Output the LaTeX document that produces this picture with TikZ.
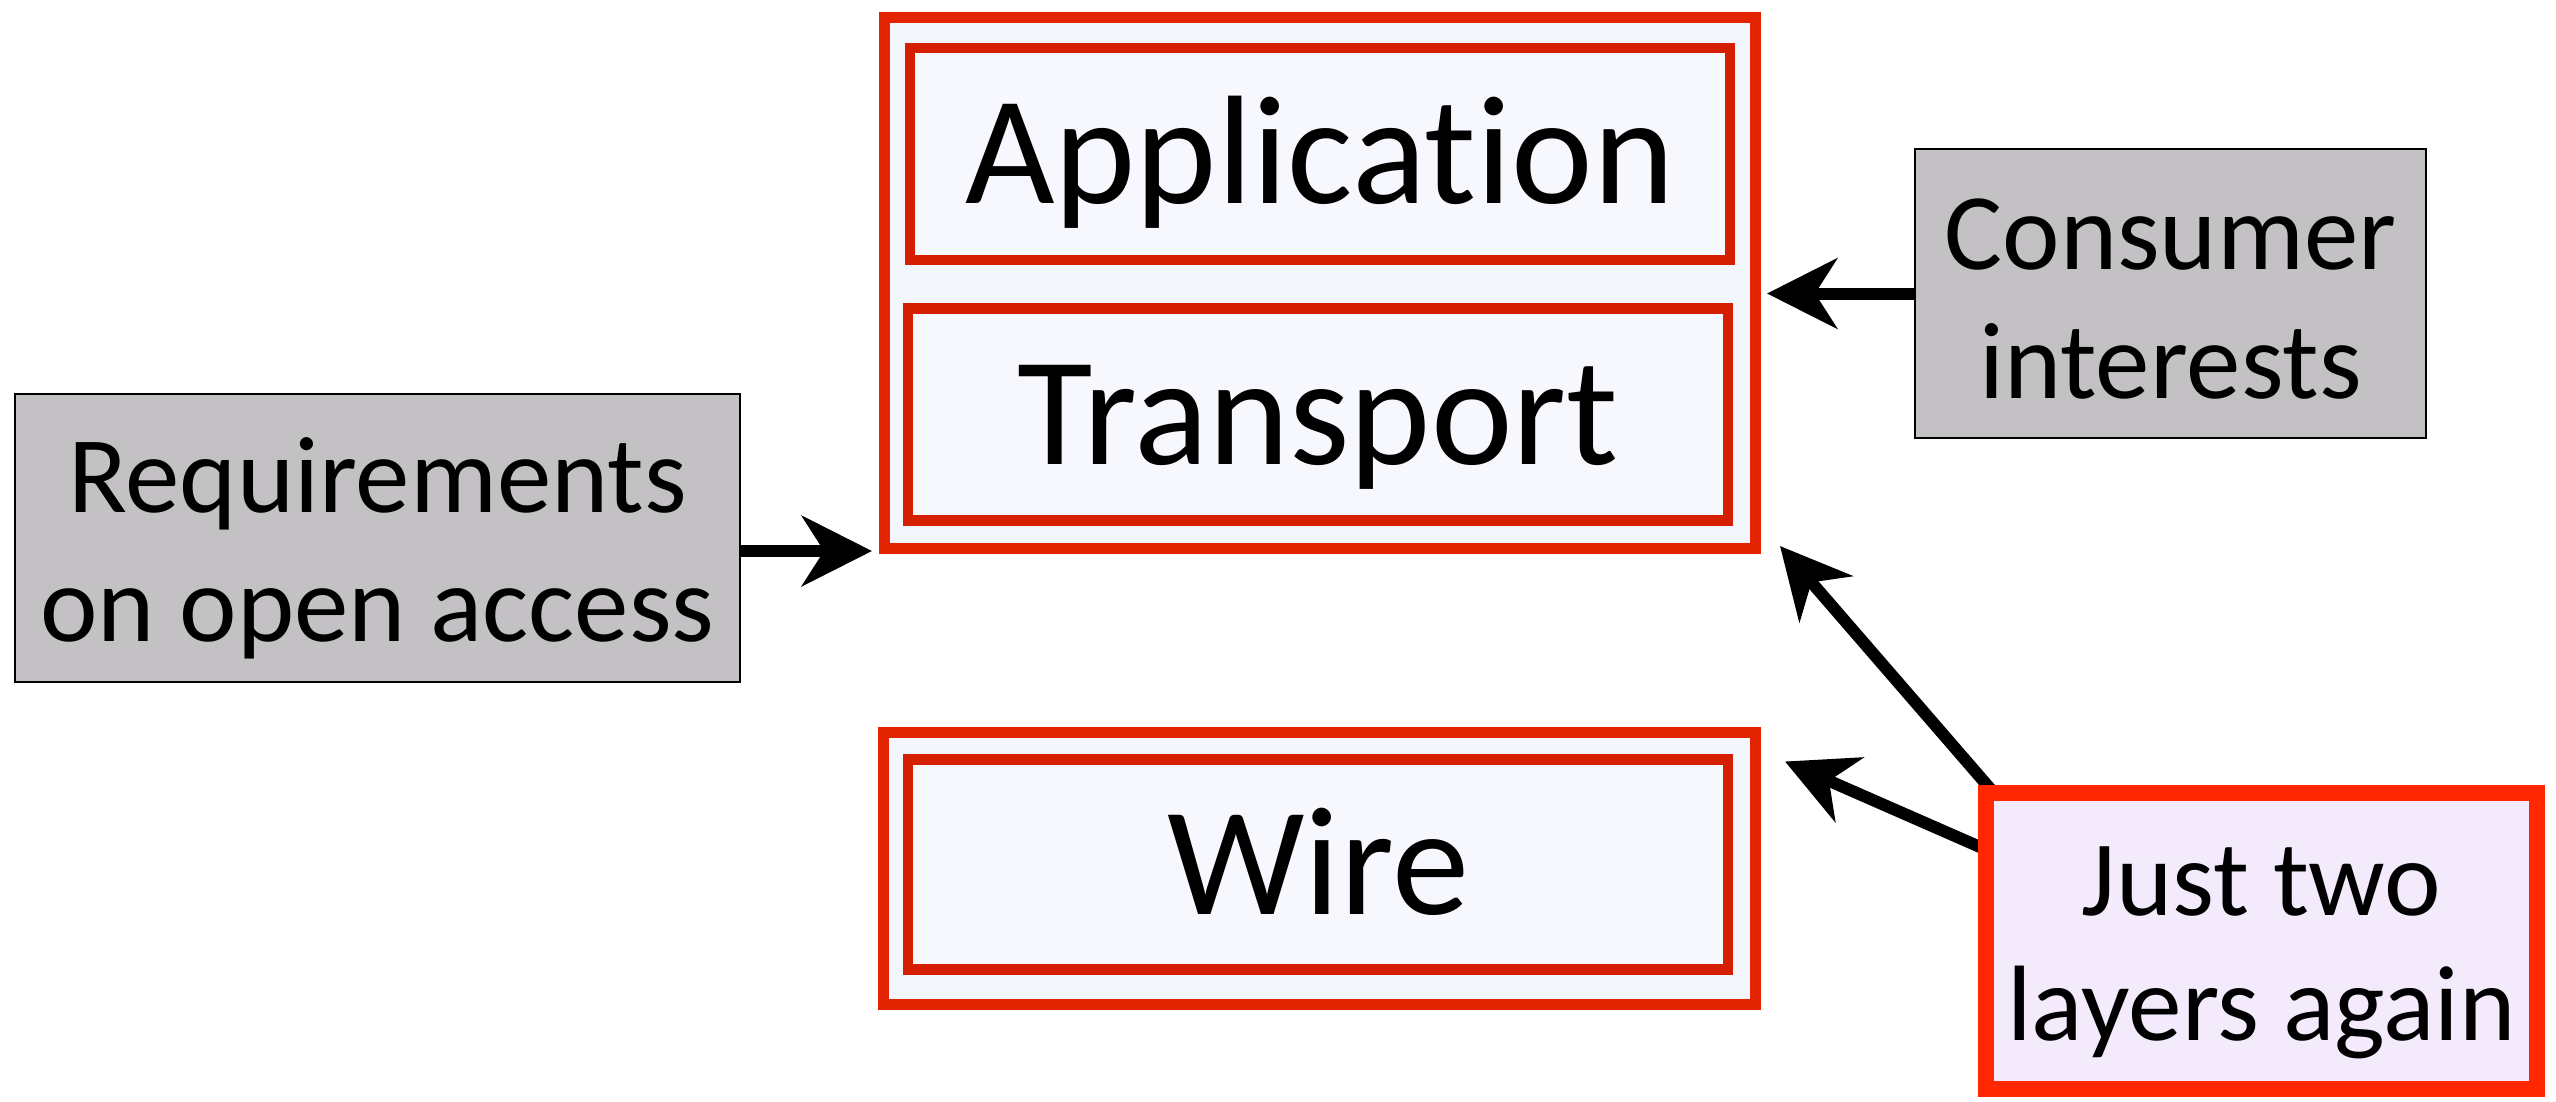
\documentclass[tikz,border=0pt]{standalone}
\usepackage{fontspec}
\setmainfont[Ligatures=NoCommon]{Carlito}
\usetikzlibrary{arrows.meta,backgrounds,calc}
\definecolor{outerred}{RGB}{226,36,0}
\definecolor{innerred}{RGB}{212,32,0}
\definecolor{outerfill}{RGB}{243,246,253}
\definecolor{innerfill}{RGB}{247,247,254}
\definecolor{issuegray}{RGB}{195,193,196}
\definecolor{notered}{RGB}{255,38,0}
\definecolor{notefill}{RGB}{243,235,252}
\tikzset{
	layerbox/.style={draw=outerred, fill=outerfill, line width=1.1mm, inner sep=0pt},
	layer/.style={draw=innerred, fill=innerfill, line width=1.05mm, inner sep=0pt,
		minimum width=82mm, minimum height=21.2mm,
		font=\fontsize{44}{52}\selectfont, text height=28.3pt, text depth=0pt},
	issue/.style={draw=black, line width=0.2mm, fill=issuegray, inner sep=0pt, align=center,
		font=\fontsize{31}{36.5}\selectfont, text height=22mm, text depth=1.4mm},
	note/.style={draw=notered, fill=notefill, line width=1.6mm, inner sep=0pt, align=center,
		font=\fontsize{30.5}{35.5}\selectfont, text height=22mm, text depth=2.2mm},
	push/.style={-{Stealth[length=7mm, width=7mm, inset=2.2mm]}, line width=1.2mm}
}
\begin{document}
\begin{tikzpicture}[x=0.1mm, y=-0.1mm]
	\useasboundingbox (0,0) rectangle (2556,1101);
	% the two stacks of layers
	\node [layerbox, minimum width=87.1mm, minimum height=53.1mm] (net) at (1320,283) {};
	\node [layer] (app) at (1320,154) {Application};
	\node [layer] (trans) at (1318,414.5) {Transport};
	\node [layerbox, minimum width=87.2mm, minimum height=27.2mm] (wirebox) at (1319.5,868) {};
	\node [layer, minimum height=21mm] (wire) at (1318,864.5) {Wire};
	% boxes round about
	\node [issue, minimum width=72.5mm, minimum height=28.8mm] (req) at (377.5,538) {Requirements\\on open access};
	\node [issue, minimum width=51.1mm, minimum height=28.9mm, text depth=1.1mm] (cons) at (2170.5,293.5) {Consumer\\interests};
	\node [note, minimum width=55.1mm, minimum height=29.6mm] (just) at (2261.5,941) {Just two\\layers again};
	% arrows, behind the boxes
	\coordinate (reqtip) at ([shift={(-7,-3)}]net.south west);
	\coordinate (constip) at ($(net.east |- cons.west)+(6,0)$);
	\begin{scope}[on background layer]
		\draw [push] (req.east |- reqtip) -- (reqtip);
		\draw [push] (cons.west) -- (constip);
		\draw [push] ([shift={(22,15)}]just.north west) -- ([shift={(19,-8)}]net.south east);
		\draw [push] ([shift={(18,-87)}]just.west) -- ([shift={(24,35)}]wirebox.north east);
	\end{scope}
\end{tikzpicture}
\end{document}
